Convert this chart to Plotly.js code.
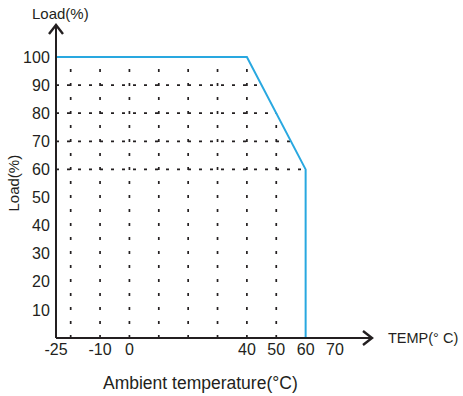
<!DOCTYPE html>
<html>
<head>
<meta charset="utf-8">
<script src="https://cdn.plot.ly/plotly-3.0.1.min.js"></script>
<style>html,body{margin:0;padding:0;background:#fff;}#chart{width:463px;height:396px;}</style>
</head>
<body>
<div id="chart"></div>
<script>
// Derating curve data
var curveTemp = [-25, 40, 60, 60];
var curveLoad = [100, 100, 60, 0];
// Tick labels
var xTicks = [-25, -10, 0, 40, 50, 60, 70];
var yTicks = [10, 20, 30, 40, 50, 60, 70, 80, 90, 100];
// Dotted guide positions
var gridTemps = [-20, -10, 0, 10, 20, 30, 40, 50];
var gridLoads = [90, 80, 70, 60];

var ink = '#231f20';
var blue = '#29a8e0';
var fam = '"Liberation Sans", Arial, sans-serif';

// value of the curve at a temperature (for guide endpoints)
function loadAt(t) {
  for (var i = 0; i < curveTemp.length - 1; i++) {
    var t0 = curveTemp[i], t1 = curveTemp[i + 1];
    if (t >= t0 && t <= t1 && t1 !== t0) {
      return curveLoad[i] + (curveLoad[i + 1] - curveLoad[i]) * (t - t0) / (t1 - t0);
    }
  }
  return curveLoad[0];
}
function tempAt(l) {
  for (var i = 0; i < curveTemp.length - 1; i++) {
    var l0 = curveLoad[i], l1 = curveLoad[i + 1];
    if (l <= Math.max(l0, l1) && l >= Math.min(l0, l1) && l0 !== l1) {
      return curveTemp[i] + (curveTemp[i + 1] - curveTemp[i]) * (l - l0) / (l1 - l0);
    }
  }
  return curveTemp[0];
}

var shapes = [];
gridTemps.forEach(function (t) {
  shapes.push({type: 'line', xref: 'x', yref: 'y', x0: t, x1: t, y0: 0, y1: loadAt(t),
    line: {color: ink, width: 1.7, dash: '3px,11px'}, layer: 'below'});
});
gridLoads.forEach(function (l) {
  shapes.push({type: 'line', xref: 'x', yref: 'y', x0: curveTemp[0], x1: tempAt(l), y0: l, y1: l,
    line: {color: ink, width: 1.7, dash: '3px,8px'}, layer: 'below'});
});

var W = 463, H = 396;
var m = {l: 56, r: 91, t: 25, b: 58};
var pw = W - m.l - m.r, ph = H - m.t - m.b;
// axis lines
shapes.push({type: 'line', xref: 'paper', yref: 'paper', x0: 0, x1: 0, y0: 0, y1: 1, line: {color: ink, width: 2}});
shapes.push({type: 'line', xref: 'paper', yref: 'paper', x0: 0, x1: 1, y0: 0, y1: 0, line: {color: ink, width: 2}});
// open chevron arrowheads
var aw = 7, al = 9;
shapes.push({type: 'path', xref: 'paper', yref: 'paper',
  path: 'M ' + (-aw / pw) + ',' + (1 - al / ph) + ' L 0,1 L ' + (aw / pw) + ',' + (1 - al / ph),
  line: {color: ink, width: 2.4}});
shapes.push({type: 'path', xref: 'paper', yref: 'paper',
  path: 'M ' + (1 - al / pw) + ',' + (aw / ph) + ' L 1,0 L ' + (1 - al / pw) + ',' + (-aw / ph),
  line: {color: ink, width: 2.4}});

var trace = {x: curveTemp, y: curveLoad, type: 'scatter', mode: 'lines',
  line: {color: blue, width: 2}, hoverinfo: 'none', cliponaxis: false};

var layout = {
  width: W, height: H, margin: m,
  paper_bgcolor: '#fff', plot_bgcolor: '#fff', showlegend: false,
  font: {family: fam, color: ink, size: 16},
  xaxis: {range: [-25, -25 + pw / ((335 - 56) / 95)], tickvals: xTicks, ticktext: xTicks.map(String),
    showgrid: false, zeroline: false, showline: false, ticks: '', ticklen: 0,
    tickfont: {size: 16, color: ink, family: fam}},
  yaxis: {range: [0, ph / ((338 - 57) / 100)], tickvals: yTicks, ticktext: yTicks.map(String),
    showgrid: false, zeroline: false, showline: false, ticks: 'outside', ticklen: 2, tickcolor: 'rgba(0,0,0,0)',
    tickfont: {size: 16, color: ink, family: fam}},
  shapes: shapes,
  annotations: [
    {text: 'Load(%)', xref: 'paper', yref: 'paper', x: 0, y: 1, xshift: 4, yshift: 12,
      xanchor: 'center', yanchor: 'middle', showarrow: false, font: {size: 15, color: ink, family: fam}},
    {text: 'Load(%)', xref: 'paper', yref: 'paper', x: 0, y: (338 - 183.5) / ph, xshift: -43, textangle: -90,
      xanchor: 'center', yanchor: 'middle', showarrow: false, font: {size: 15, color: ink, family: fam}},
    {text: 'TEMP(°\u00a0C)', xref: 'paper', yref: 'paper', x: 1, y: 0, xshift: 14, yshift: 0,
      xanchor: 'left', yanchor: 'middle', showarrow: false, font: {size: 14.5, color: ink, family: fam}},
    {text: 'Ambient temperature(°C)', xref: 'paper', yref: 'paper', x: 0, y: 0, xshift: 144, yshift: -45,
      xanchor: 'center', yanchor: 'middle', showarrow: false, font: {size: 17.5, color: ink, family: fam}}
  ]
};

Plotly.newPlot('chart', [trace], layout, {staticPlot: true, displayModeBar: false});
</script>
</body>
</html>
